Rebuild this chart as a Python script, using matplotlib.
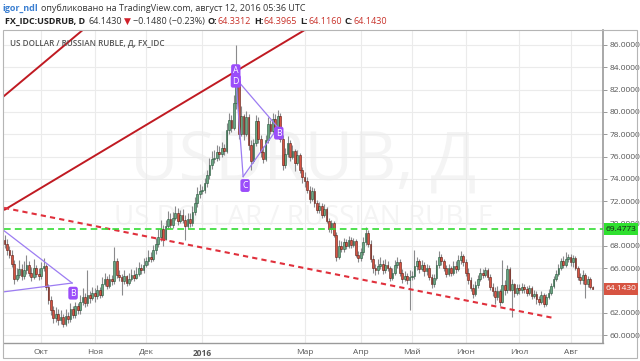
import numpy as np
import pandas as pd
import matplotlib
matplotlib.use("Agg")
from matplotlib import pyplot as plt
from matplotlib.patches import Rectangle

W, H = 640, 361

# ---- data ----
dates = pd.bdate_range('2015-09-10', '2016-08-12')

first_open = 68.5
close = [
    # Sep
    68.2, 67.6, 67.2, 66.4, 65.0, 65.4, 65.9, 65.3, 65.8, 66.3, 65.6, 65.2, 66.0, 65.5, 65.3,
    # Oct
    66.0, 66.2, 64.3, 63.1, 62.2, 61.5, 61.9, 61.3, 61.6, 61.0, 61.7, 61.4, 62.3, 61.8, 62.6, 62.2,
    63.0, 63.4, 62.9, 63.6, 63.3, 63.8,
    # Nov
    63.5, 64.0, 63.6, 64.6, 65.0, 64.4, 65.0, 64.8, 66.6, 65.4, 65.2, 64.8, 65.3, 64.7, 65.0, 65.4,
    65.1, 65.5, 66.0, 65.8, 66.3,
    # Dec
    66.6, 67.0, 66.8, 67.6, 68.2, 68.8, 69.5, 68.6, 69.8, 70.4, 69.9, 70.5, 70.9, 70.2, 70.8, 70.3,
    69.8, 70.4, 70.0, 71.0, 71.8, 72.6, 72.9,
    # Jan
    73.0, 73.6, 74.3, 75.2, 75.8, 75.9, 76.4, 76.2, 76.8, 76.5, 78.4, 79.3, 78.6, 80.8, 82.8, 78.0,
    79.6, 78.0, 79.5, 77.0, 75.6,
    # Feb
    77.2, 79.2, 77.6, 76.4, 75.8, 77.5, 78.9, 78.3, 79.4, 78.6, 79.6, 77.6, 75.2, 76.2, 77.2, 76.0,
    76.5, 75.4, 76.1, 74.8, 74.2,
    # Mar
    73.8, 73.0, 72.2, 72.9, 71.8, 71.2, 71.6, 70.8, 71.3, 70.2, 69.5, 70.0, 69.0, 67.0, 68.0, 67.7,
    68.3, 68.0, 68.5, 68.1, 68.4, 67.2, 66.9,
    # Apr
    67.4, 68.3, 69.1, 68.2, 66.8, 66.0, 65.8, 66.2, 66.4, 65.8, 66.3, 66.0, 65.1, 65.6, 66.3, 66.5,
    65.6, 65.0, 65.3, 64.9, 65.2,
    # May
    65.3, 66.2, 66.6, 65.9, 66.3, 65.7, 66.0, 65.2, 64.6, 65.1, 66.3, 67.0, 66.6, 66.0, 65.5, 66.0,
    65.6, 66.2, 65.9, 66.7, 67.1, 66.5,
    # Jun
    65.6, 64.9, 64.2, 63.7, 64.5, 65.0, 65.6, 65.4, 65.8, 65.2, 64.3, 63.9, 63.4, 63.9, 63.0, 64.5,
    64.0, 65.9, 64.0, 64.6, 63.8, 64.2,
    # Jul
    64.0, 64.3, 64.1, 63.8, 64.2, 63.5, 63.7, 63.2, 63.0, 63.6, 62.8, 63.4, 63.8, 64.4, 65.0, 65.5,
    66.0, 66.6, 66.3, 66.8, 67.0,
    # Aug
    66.5, 66.9, 66.0, 65.2, 64.9, 65.4, 64.6, 65.0, 64.3312, 64.143,
]
high = [
    69.0, 68.6, 68.0, 67.6, 66.7, 66.0, 66.7, 66.4, 66.6, 67.2, 66.6, 66.1, 66.8, 66.3, 66.0,
    66.5, 66.9, 66.4, 64.6, 63.5, 62.6, 62.5, 62.3, 62.2, 61.9, 62.3, 62.1, 62.9, 62.6, 63.0, 62.9,
    63.6, 64.2, 63.8, 65.8, 63.9, 64.3,
    64.2, 64.5, 64.3, 65.2, 65.6, 65.3, 65.5, 65.4, 67.9, 66.9, 65.8, 65.5, 65.8, 65.4, 65.6, 65.9,
    65.8, 66.1, 66.5, 66.4, 66.9,
    67.0, 67.6, 67.4, 68.1, 68.7, 69.5, 70.3, 69.9, 70.3, 71.1, 70.9, 71.0, 71.6, 71.4, 71.2, 71.3,
    70.8, 70.9, 70.9, 71.6, 72.4, 73.3, 73.5,
    73.4, 74.1, 74.8, 75.9, 76.5, 76.6, 77.0, 76.9, 77.3, 77.1, 79.0, 79.9, 79.7, 81.5, 86.0, 82.9,
    80.5, 79.8, 80.1, 79.8, 77.5,
    77.6, 79.7, 79.5, 77.9, 76.9, 77.9, 79.5, 79.3, 79.9, 79.8, 80.2, 79.9, 77.9, 76.8, 77.8, 77.5,
    77.0, 76.7, 76.6, 76.3, 75.1,
    74.6, 74.2, 73.4, 73.3, 73.2, 72.1, 71.9, 71.8, 71.7, 71.5, 70.5, 70.3, 70.2, 69.2, 68.5, 68.4,
    68.7, 68.6, 68.9, 68.8, 68.7, 68.6, 67.5,
    67.8, 68.8, 69.7, 69.4, 68.5, 67.2, 66.4, 66.8, 67.0, 66.7, 66.8, 66.6, 66.2, 66.0, 66.7, 67.0,
    66.8, 65.9, 65.7, 65.6, 65.8,
    65.7, 67.6, 67.0, 66.8, 66.7, 66.5, 66.4, 66.3, 65.5, 65.5, 66.7, 67.5, 67.3, 66.8, 66.3, 66.4,
    66.2, 66.6, 66.6, 67.2, 67.5, 67.3,
    66.8, 66.0, 65.2, 64.6, 64.8, 65.4, 66.0, 65.9, 66.1, 66.0, 65.5, 64.7, 64.3, 64.4, 64.1, 66.7,
    64.9, 66.3, 66.1, 65.0, 64.7, 64.6,
    64.6, 64.7, 64.6, 64.4, 64.5, 64.4, 64.0, 63.9, 63.5, 63.9, 63.8, 63.7, 64.1, 64.7, 65.3, 65.8,
    66.4, 66.9, 67.1, 67.4, 67.3,
    67.3, 67.2, 67.1, 66.2, 65.6, 65.8, 65.6, 65.3, 65.2, 64.3965,
]
low = [
    67.8, 67.2, 66.9, 66.1, 64.6, 64.8, 65.1, 64.9, 65.0, 65.5, 65.3, 64.8, 65.0, 65.2, 64.9,
    65.0, 65.7, 64.0, 62.8, 61.8, 61.1, 61.2, 60.9, 61.0, 60.7, 60.8, 61.1, 61.2, 61.5, 61.5, 61.9,
    61.9, 62.7, 62.5, 62.6, 62.9, 63.1,
    63.0, 63.2, 63.3, 63.4, 64.4, 64.1, 64.2, 64.5, 64.6, 65.1, 64.8, 63.6, 64.6, 64.4, 64.5, 64.8,
    64.8, 65.0, 65.3, 65.5, 65.6,
    66.1, 66.3, 66.5, 66.6, 67.3, 67.9, 68.4, 68.0, 68.5, 69.5, 69.6, 69.6, 70.3, 69.9, 70.0, 70.0,
    68.5, 69.5, 69.7, 69.8, 70.8, 71.5, 72.3,
    72.6, 72.7, 73.3, 74.0, 74.9, 75.4, 75.6, 75.7, 76.0, 76.1, 76.3, 78.0, 78.2, 78.4, 80.3, 77.6,
    77.8, 77.5, 77.8, 76.6, 74.8,
    75.4, 76.9, 77.2, 76.0, 75.4, 75.6, 77.2, 78.0, 78.0, 78.2, 78.4, 77.3, 74.8, 75.0, 76.0, 75.6,
    75.8, 74.7, 75.2, 74.5, 73.6,
    73.3, 72.7, 71.8, 72.0, 71.5, 70.9, 70.9, 70.5, 70.6, 70.0, 69.2, 69.1, 68.8, 66.6, 66.8, 67.4,
    67.4, 67.7, 67.8, 67.8, 67.9, 67.0, 66.5,
    66.6, 67.2, 68.1, 67.9, 66.5, 65.6, 65.4, 65.5, 65.9, 65.5, 65.6, 65.7, 64.8, 64.9, 65.4, 66.0,
    65.3, 64.7, 64.8, 64.6, 62.2,
    64.9, 65.0, 65.8, 65.6, 65.7, 65.3, 65.4, 64.9, 64.2, 64.3, 64.9, 66.0, 66.3, 65.7, 65.2, 65.3,
    65.3, 65.4, 65.6, 65.7, 66.4, 66.2,
    65.3, 64.6, 63.9, 63.3, 63.5, 64.2, 64.8, 65.1, 65.2, 64.9, 64.0, 63.5, 62.8, 63.1, 62.6, 62.9,
    63.6, 63.8, 63.9, 61.6, 63.4, 63.6,
    63.7, 63.8, 63.8, 63.5, 63.6, 63.2, 63.3, 62.8, 62.7, 62.8, 62.5, 62.6, 63.2, 63.6, 64.2, 64.8,
    65.3, 65.8, 66.0, 66.1, 66.5,
    66.2, 66.1, 65.8, 64.9, 64.6, 64.6, 63.3, 64.3, 64.1, 64.116,
]

month_starts = ['2015-10-01', '2015-11-01', '2015-12-01', '2016-01-01', '2016-03-01',
                '2016-04-01', '2016-05-01', '2016-06-01', '2016-07-01', '2016-08-01']
month_labels = ['Окт', 'Ноя', 'Дек', '2016', 'Мар', 'Апр', 'Май', 'Июн', 'Июл', 'Авг']

price_ticks = list(range(60, 88, 2))
level_green = 69.4773
last_price = 64.1430

# drawings: (bar index, price)
trend_a = [(-0.6, 81.35), (40.0, 88.8)]
trend_b = [(-0.2, 71.2), (125.0, 87.6)]
support = [(-0.2, 71.4), (225.6, 61.5)]
tri_upper = [(-0.6, 69.42), (27.7, 64.66)]
tri_lower = [(-0.6, 63.86), (27.7, 64.66)]
pt_d = (94.8, 83.0)
pt_b = (112.1, 78.6)
pt_c = (97.8, 74.2)
letters = [('B', 28.1, 63.75), ('A', 94.8, 83.7), ('D', 94.8, 82.75),
           ('B', 112.4, 78.1), ('C', 98.6, 73.4)]

# ---- figure ----
plt.rcParams['font.family'] = ['Open Sans', 'DejaVu Sans']
fig = plt.figure(figsize=(W / 100, H / 100), dpi=100)

def fx(px):
    return px / W

def fy(py):
    return 1 - py / H

L, R, T, B = 4, 603, 30, 343
ax = fig.add_axes([fx(L), fy(B), fx(R - L), fy(T) - fy(B)])

n = len(close)
idx = np.arange(n)
opens = [first_open] + close[:-1]

up_face, up_edge = '#6ba583', '#225437'
dn_face, dn_edge = '#d75442', '#5b1a13'
wick = '#8a8a8c'

ax.vlines(idx, low, high, color=wick, lw=0.8, zorder=3)
o = np.array(opens)
c = np.array(close)
is_up = c >= o
bottoms = np.minimum(o, c)
heights = np.maximum(np.abs(c - o), 0.05)
ax.bar(idx[is_up], heights[is_up], bottom=bottoms[is_up], width=0.7,
       color=up_face, edgecolor=up_edge, lw=0.4, zorder=4)
ax.bar(idx[~is_up], heights[~is_up], bottom=bottoms[~is_up], width=0.7,
       color=dn_face, edgecolor=dn_edge, lw=0.4, zorder=4)

# axes range: 11.154 px per ruble, 2.44 px per bar
ymin = 60 + (335 - B) / 11.154
ymax = 60 + (335 - T) / 11.154
ax.set_ylim(ymin, ymax)
ax.set_xlim((L - 4.5) / 2.44, (R - 4.5) / 2.44)

month_idx = [int(dates.searchsorted(pd.Timestamp(d))) for d in month_starts]
ax.set_xticks(month_idx)
ax.set_xticklabels(month_labels)
for t in ax.get_xticklabels():
    if t.get_text() == '2016':
        t.set_fontweight('bold')
ax.tick_params(axis='x', length=0, pad=4, labelsize=6, labelcolor='#555555')

ax.yaxis.tick_right()
ax.set_yticks(price_ticks)
# 64.0000 sits under the last-price tag
ax.set_yticklabels(['' if p == 64 else '%.4f' % p for p in price_ticks])
ax.tick_params(axis='y', length=3, width=0.6, color='#888888', pad=2,
               labelsize=6, labelcolor='#555555')

ax.grid(True, color='#ebebeb', lw=0.8, zorder=0)
for s in ['top', 'left']:
    ax.spines[s].set_visible(False)
ax.spines['right'].set_color('#9a9a9a')
ax.spines['right'].set_linewidth(1.2)
ax.spines['bottom'].set_color('#9a9a9a')
ax.spines['bottom'].set_linewidth(1.0)

# watermark
ax.text(0.5, 0.58, 'USDRUB, Д', transform=ax.transAxes, ha='center', va='center',
        fontsize=48, color='#f4f4f4', zorder=1)
ax.text(0.5, 0.40, 'US DOLLAR / RUSSIAN RUBLE', transform=ax.transAxes, ha='center',
        va='center', fontsize=20, color='#f4f4f4', zorder=1)

ax.text(6 / (R - L), 1 - 14 / (B - T), 'US DOLLAR / RUSSIAN RUBLE, Д, FX_IDC',
        transform=ax.transAxes, ha='left', va='center', fontsize=5.9,
        fontweight='semibold', color='#555555', zorder=6)

# trend lines
for seg in (trend_a, trend_b):
    xs, ys = zip(*seg)
    ax.plot(xs, ys, color='#c01a22', lw=1.4, zorder=5, solid_capstyle='butt')
xs, ys = zip(*support)
ax.plot(xs, ys, color='#e0303c', lw=1.5, ls=(0, (2.5, 2)), zorder=5)
ax.axhline(level_green, color='#33dd33', lw=1.2, ls=(0, (4, 2.5)), zorder=5)

purple = '#9c7cf2'
for seg in (tri_upper, tri_lower):
    xs, ys = zip(*seg)
    ax.plot(xs, ys, color=purple, lw=0.9, zorder=6)
for p, q in ((pt_d, pt_b), (pt_b, pt_c), (pt_c, pt_d)):
    ax.plot([p[0], q[0]], [p[1], q[1]], color=purple, lw=0.9, zorder=6)
for ch, xi, yi in letters:
    ax.text(xi, yi, ch, ha='center', va='center', fontsize=6.3, color='white',
            zorder=8,
            bbox=dict(boxstyle='round,pad=0.22,rounding_size=0.25', fc='#9b4dfa',
                      ec='none'))

# price labels on right
def price_tag(val, fc, tc):
    ypx = T + (ymax - val) / (ymax - ymin) * (B - T)
    fig.patches.append(Rectangle((fx(R + 1), fy(ypx + 6)), fx(34), 12 / H,
                                 transform=fig.transFigure, fc=fc, ec='none', zorder=5))
    fig.text(fx(R + 18), fy(ypx), '%.4f' % val, ha='center', va='center',
             fontsize=6, color=tc, zorder=6)

price_tag(level_green, '#2fe02f', '#1a1a1a')
price_tag(last_price, '#d75442', 'white')

# outer frame
fig.patches.append(Rectangle((fx(3), fy(358)), fx(634), (358 - 30) / H,
                             transform=fig.transFigure, fill=False,
                             ec='#b5b5b5', lw=0.8))

# header rows
renderer = fig.canvas.get_renderer()

def put_row(ypx, pieces, x0=2, size=6.5):
    x = x0
    for txt, col, wt, gap in pieces:
        t = fig.text(fx(x), fy(ypx), txt, ha='left', va='baseline', fontsize=size,
                     color=col, fontweight=wt)
        x += t.get_window_extent(renderer).width + gap

put_row(11, [('igor_ndl', '#3b7fd1', 'bold', 3),
             ('опубликовано на TradingView.com, август 12, 2016 05:36 UTC', '#333333',
              'normal', 0)])
red = '#c8322a'
dark = '#222222'
put_row(24, [('FX_IDC:USDRUB, D', dark, 'bold', 3),
             ('64.1430', '#333333', 'normal', 2),
             ('▼', '#d0202a', 'normal', 2),
             ('−0.1480 (−0.23%)', '#333333', 'normal', 3),
             ('O:', dark, 'bold', 0.5), ('64.3312', red, 'normal', 3),
             ('H:', dark, 'bold', 0.5), ('64.3965', red, 'normal', 3),
             ('L:', dark, 'bold', 0.5), ('64.1160', red, 'normal', 3),
             ('C:', dark, 'bold', 0.5), ('64.1430', red, 'normal', 0)], x0=5)

fig.savefig('out.png', dpi=100)
